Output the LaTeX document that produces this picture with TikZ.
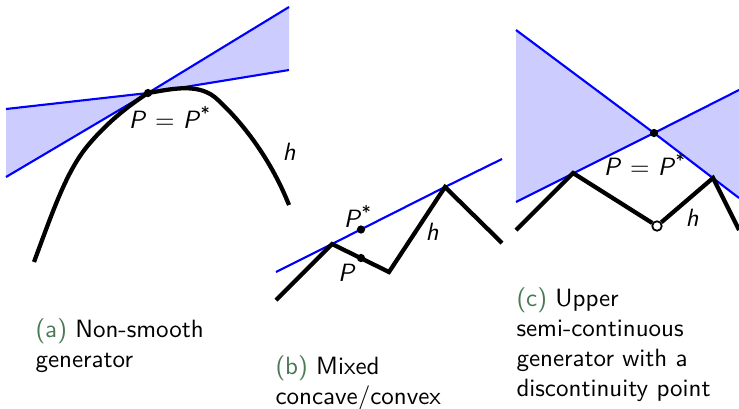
\documentclass[tikz,border=0pt]{standalone}
\usetikzlibrary{positioning}
\definecolor{cblue}{HTML}{0000FF}
\definecolor{cshade}{HTML}{CCCCFF}
\definecolor{cgreen}{HTML}{4A7A55}
\tikzset{
  every picture/.style={font=\sffamily, x=0.4pt, y=-0.4pt},
  tangent/.style={draw=cblue, line width=0.85pt},
  cone/.style={fill=cshade, draw=none},
  hcurve/.style={draw=black, line width=1.7pt},
  dot/.style={circle, fill=black, inner sep=0pt, minimum size=3.3pt},
  hole/.style={circle, draw=black, fill=white, line width=0.7pt, inner sep=0pt, minimum size=3.8pt},
  lbl/.style={inner sep=1pt},
  capt/.style={align=left, anchor=north west, inner sep=0pt},
}
\newcommand{\capnum}[1]{\textcolor{cgreen}{(#1)}}
\newcommand{\pvar}{\textit{P}}

\begin{document}
\begin{tikzpicture}
  \useasboundingbox (0,0) rectangle (739,408);
  % (a) non-smooth generator
  \coordinate (pa) at (148,93);
  \fill[cone] (6,109) -- (pa) -- (6,177) -- cycle;
  \fill[cone] (289,7) -- (pa) -- (289,70) -- cycle;
  \draw[tangent] (6,177) -- (pa) -- (289,7);
  \draw[tangent] (6,109) -- (pa) -- (289,70);
  \draw[hcurve] (34,262) .. controls (55,205) and (68,168) .. (90,143)
    .. controls (108,122) and (128,106) .. (pa)
    .. controls (172,89) and (200,82) .. (218,100)
    .. controls (245,125) and (272,162) .. (289,205);
  \node[dot] (Pa) at (pa) {};
  \node[lbl] (Pla) at (170,117) {\pvar{} = \pvar\textsuperscript{*}};
  \node[lbl] (ha) at (289,152) {\textit{h}};
  \node[capt] (capa) at (35,318) {\capnum{a} Non-smooth\\generator};
  % (b) mixed concave/convex
  \coordinate (b1) at (332,244);
  \coordinate (b2) at (445,187);
  \draw[tangent] (276,272) -- (b1) -- (b2) -- (502,159);
  \draw[hcurve] (276,300) -- (b1) -- (389,272) -- (b2) -- (502,243);
  \node[dot] (Pb) at (361,258) {};
  \node[dot] (Psb) at (361,229.5) {};
  \node[lbl] (Pslb) at (358,216) {\pvar\textsuperscript{*}};
  \node[lbl] (Plb) at (347,273) {\pvar};
  \node[lbl] (hb) at (432,232) {\textit{h}};
  \node[capt] (capb) at (275,355) {\capnum{b} Mixed\\concave/convex};
  % (c) upper semi-continuous generator
  \coordinate (pc) at (654,133);
  \fill[cone] (516,30) -- (pc) -- (516,202) -- cycle;
  \fill[cone] (739,90) -- (pc) -- (739,198) -- cycle;
  \draw[tangent] (516,30) -- (pc) -- (739,198);
  \draw[tangent] (516,202) -- (pc) -- (739,90);
  \node[hole] (hc0) at (657,226) {};
  \draw[hcurve] (516,230) -- (573,173) -- (hc0);
  \draw[hcurve] (hc0) -- (713,178) -- (739,230);
  \node[dot] (Pc) at (pc) {};
  \node[lbl] (Plc) at (645,164) {\pvar{} = \pvar\textsuperscript{*}};
  \node[lbl] (hc) at (692,218) {\textit{h}};
  \node[capt] (capc) at (516,287) {\capnum{c} Upper\\semi-continuous\\generator with a\\discontinuity point};
\end{tikzpicture}
\end{document}
